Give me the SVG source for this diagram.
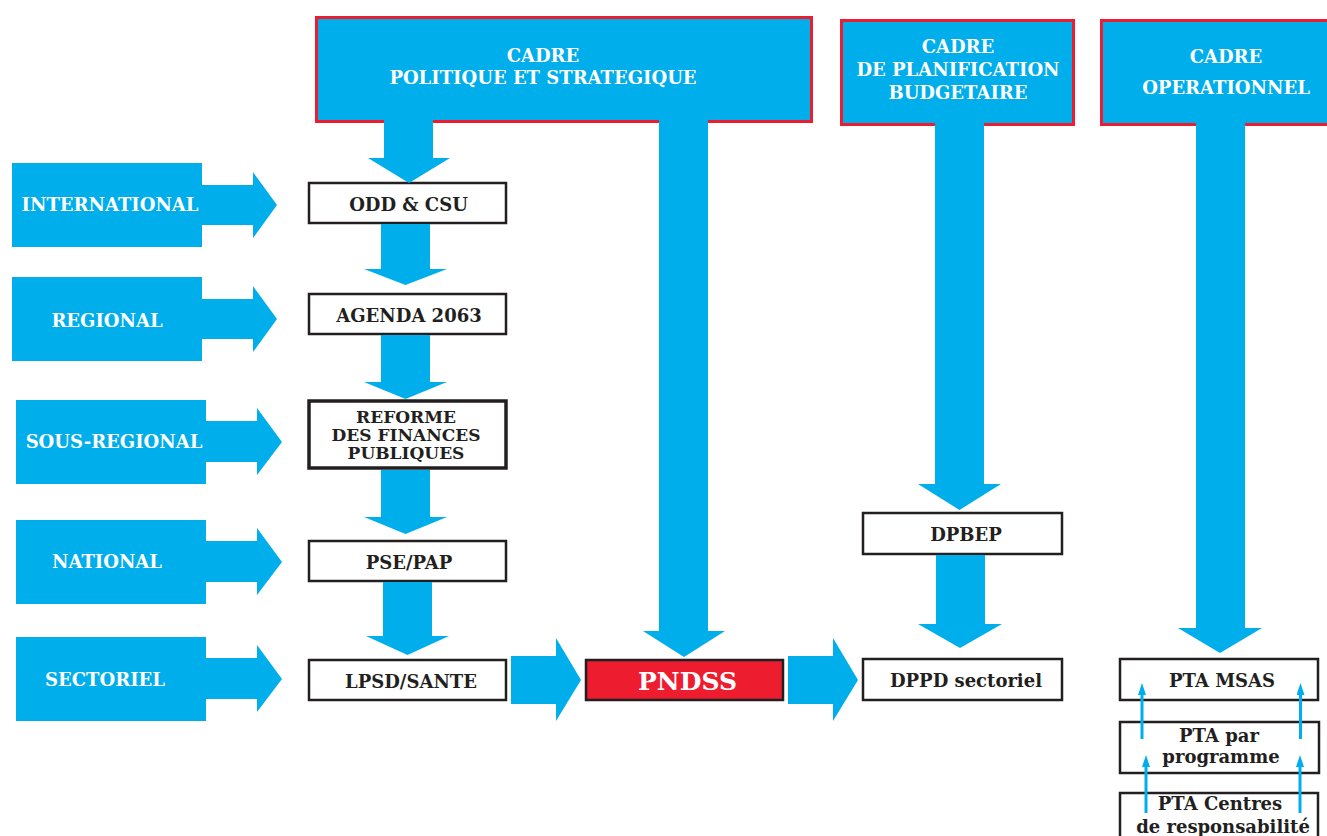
<svg xmlns="http://www.w3.org/2000/svg" width="1327" height="836" viewBox="0 0 1327 836">
<defs>
<style>
.bl{fill:#00AEEB;}
.hdr{fill:#00AEEB;stroke:#ED1C2E;stroke-width:3;}
.box{fill:#ffffff;stroke:#231F20;stroke-width:2.5;}
.t{font-family:"DejaVu Serif","Liberation Serif",serif;font-weight:bold;font-size:18px;text-anchor:middle;}
.w{fill:#ffffff;}
.k{fill:#231F20;}
.up{stroke:#00AEEB;stroke-width:3;fill:none;marker-end:url(#ah);}
</style>
<marker id="ah" viewBox="0 0 12 8" markerWidth="12" markerHeight="8" markerUnits="userSpaceOnUse" refX="2" refY="4" orient="auto">
<path d="M0,0 L12,4 L0,8 Z" fill="#00AEEB"/>
</marker>
</defs>
<rect width="1327" height="836" fill="#ffffff"/>

<g id="h1"><rect class="hdr" x="316.5" y="17.5" width="495" height="104"/>
<text class="t w" x="543" y="62">CADRE</text><text class="t w" x="543" y="84">POLITIQUE ET STRATEGIQUE</text></g>
<g id="h2"><rect class="hdr" x="841.5" y="20.5" width="232" height="104"/>
<text class="t w" x="958" y="53">CADRE</text><text class="t w" x="958" y="76">DE PLANIFICATION</text><text class="t w" x="958" y="99">BUDGETAIRE</text></g>
<g id="h3"><rect class="hdr" x="1101.5" y="20.5" width="240" height="104"/>
<text class="t w" x="1226" y="63">CADRE</text><text class="t w" x="1226" y="94">OPERATIONNEL</text></g>

<g id="international"><path class="bl" d="M12,163 H202 V185 H253 V172 L277,205 L253,238 V225 H202 V247 H12 Z"/><text class="t w" x="110" y="211">INTERNATIONAL</text></g>
<g id="regional"><path class="bl" d="M12,277 H202 V299 H253 V286 L277,319 L253,352 V339 H202 V361 H12 Z"/><text class="t w" x="107" y="327">REGIONAL</text></g>
<g id="sousregional"><path class="bl" d="M16,400 H206 V421 H257 V408 L282,442 L257,475 V462 H206 V484 H16 Z"/><text class="t w" x="114" y="448">SOUS-REGIONAL</text></g>
<g id="national"><path class="bl" d="M16,520 H206 V541 H257 V528 L282,562 L257,595 V582 H206 V604 H16 Z"/><text class="t w" x="107" y="568">NATIONAL</text></g>
<g id="sectoriel"><path class="bl" d="M16,637 H206 V658 H257 V645 L282,679 L257,712 V699 H206 V721 H16 Z"/><text class="t w" x="105" y="686">SECTORIEL</text></g>

<g id="odd"><rect class="box" x="309" y="183" width="197" height="40"/><text class="t k" x="408.5" y="211">ODD &amp; CSU</text></g>
<g id="agenda"><rect class="box" x="309" y="294" width="197" height="40"/><text class="t k" x="409" y="322">AGENDA 2063</text></g>
<g id="reforme"><rect class="box" x="309" y="401" width="197" height="67" style="stroke-width:3.5"/>
<text class="t k" x="406" y="423" style="font-size:17px">REFORME</text><text class="t k" x="406" y="441" style="font-size:17px">DES FINANCES</text><text class="t k" x="406" y="459" style="font-size:17px">PUBLIQUES</text></g>
<g id="pse"><rect class="box" x="309" y="541" width="197" height="40"/><text class="t k" x="409" y="569">PSE/PAP</text></g>
<g id="lpsd"><rect class="box" x="309" y="660" width="197" height="40"/><text class="t k" x="411" y="688">LPSD/SANTE</text></g>
<g id="pndss"><rect class="box" x="586" y="660" width="197" height="40" style="fill:#ED1C2E"/><text class="t w" x="687.5" y="690" style="font-size:25px">PNDSS</text></g>
<g id="dpbep"><rect class="box" x="863" y="513" width="199" height="41"/><text class="t k" x="966" y="541">DPBEP</text></g>
<g id="dppd"><rect class="box" x="863" y="659" width="199" height="41"/><text class="t k" x="966" y="687">DPPD sectoriel</text></g>
<g id="ptamsas"><rect class="box" x="1120" y="659" width="198" height="41"/><text class="t k" x="1222" y="687">PTA MSAS</text></g>
<g id="ptaprog"><rect class="box" x="1120" y="722" width="199" height="51"/><text class="t k" x="1219" y="742">PTA par</text><text class="t k" x="1221" y="763">programme</text></g>
<g id="ptacentres"><rect class="box" x="1120" y="793" width="198" height="60"/><text class="t k" x="1220" y="810">PTA Centres</text><text class="t k" x="1223" y="833">de responsabilité</text></g>

<g id="connectors">
<path class="bl" d="M384,119 V158 H368 L409,183 L450,158 H433 V119 Z"/>
<path class="bl" d="M381,224 V269 H364 L405.5,285 L447,269 H430 V224 Z"/>
<path class="bl" d="M381,335 V382 H364 L405.5,399 L447,382 H430 V335 Z"/>
<path class="bl" d="M381,470 V517 H364 L405.5,534 L447,517 H430 V470 Z"/>
<path class="bl" d="M383,582 V636 H366 L407.5,655 L449,636 H432 V582 Z"/>
<path class="bl" d="M659,119 V631 H643 L684,657 L725,631 H708 V119 Z"/>
<path class="bl" d="M935,123 V484 H918 L959.5,510 L1001,484 H984 V123 Z"/>
<path class="bl" d="M936,555 V624 H918 L960,648 L1002,624 H985 V555 Z"/>
<path class="bl" d="M1196,123 V628 H1178 L1220,653 L1262,628 H1245 V123 Z"/>
<path class="bl" d="M511,656 H556 V638 L581,680 L556,721 V704 H511 Z"/>
<path class="bl" d="M788,656 H833 V638 L858,680 L833,721 V704 H788 Z"/>
<line class="up" x1="1142" y1="739" x2="1142" y2="693"/>
<line class="up" x1="1300.5" y1="739" x2="1300.5" y2="693"/>
<line class="up" x1="1146" y1="813" x2="1146" y2="765"/>
<line class="up" x1="1300" y1="813" x2="1300" y2="765"/>
</g>
</svg>
